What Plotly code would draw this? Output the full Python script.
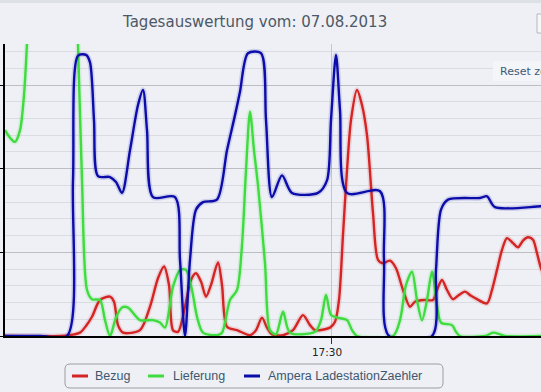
import pandas as pd
import plotly.graph_objects as go

# ---------------- data (time in minutes after midnight, values in W) ----------------
series_names = ["Bezug", "Lieferung", "Ampera LadestationZaehler"]
series_colors = ["#d42424", "#3edc3e", "#0c0caa"]

bezug_t = [887, 914.5, 919.5, 924.5, 927.5, 930.5, 934.5, 939.5, 941.5, 943.5, 946, 954.5, 959.5, 963.5,
           966.5, 969, 971, 973.5, 977, 980, 982.5, 985, 987.5, 990, 993.5, 995.5, 998, 1003, 1009.5,
           1012.5, 1015.5, 1018, 1020.5, 1026, 1031, 1036, 1039.5, 1042, 1049.5, 1052, 1054, 1056, 1058,
           1060, 1063, 1065.5, 1068, 1071, 1073.5, 1076, 1079.5, 1082.5, 1086, 1089.5, 1092, 1097, 1101,
           1103, 1105.5, 1108, 1111, 1113.5, 1117, 1120, 1123, 1128, 1130.5, 1133, 1135.5, 1138, 1141,
           1143.5, 1146, 1148.5, 1151, 1153, 1155, 1158.5]
bezug_v = [0, 0, 10, 40, 120, 230, 430, 470, 410, 130, 40, 70, 350, 690, 830, 610, 70, 50, 350, 670,
           750, 650, 470, 610, 880, 610, 110, 70, 10, 70, 220, 100, 20, 10, 70, 250, 130, 70, 100, 170,
           430, 1210, 1980, 2580, 2940, 2760, 2400, 1470, 910, 870, 900, 810, 550, 350, 410, 430, 430,
           550, 670, 550, 440, 480, 530, 480, 440, 390, 550, 790, 1030, 1170, 1110, 1060, 1140, 1180,
           1150, 990, 810, 610]

lieferung_t = [887, 889.5, 892, 894.5, 896.5, 898, 900.5, 912, 921.5, 923.5, 925.5, 928, 930.5, 934.5,
               937, 939.5, 942.5, 945.5, 948.5, 954.5, 961, 964.5, 967, 971, 974.5, 977.5, 980.5, 983,
               986, 993, 995.5, 999.5, 1003, 1005.5, 1007.5, 1009.5, 1011.5, 1013.5, 1017, 1019.5,
               1022.5, 1026, 1029.5, 1042, 1045, 1047.5, 1050, 1053, 1058, 1060.5, 1063, 1081, 1084.5,
               1087.5, 1090.5, 1093, 1095.5, 1098, 1100.5, 1103, 1105, 1110.5, 1112.5, 1114.5, 1127,
               1131, 1134.5, 1137, 1155]
lieferung_v = [2460, 2370, 2320, 2460, 2880, 3490, 4730, 5810, 4730, 3490, 1860, 550, 440, 430, 190, 0,
               220, 340, 340, 190, 190, 160, 100, 590, 790, 790, 550, 230, 40, 10, 40, 430, 550, 1090,
               1980, 2680, 2220, 1800, 870, 70, 20, 290, 40, 50, 190, 490, 250, 220, 190, 70, 0, 0, 190,
               610, 770, 430, 190, 430, 770, 370, 160, 130, 50, 0, 0, 40, 20, 0, 0]

ampera_t = [887, 904.5, 918, 921, 923.5, 927.5, 929.5, 931.5, 933.5, 939.5, 942.5, 945.5, 949.5, 953.5,
            956, 958, 961, 972, 974.5, 977, 979.5, 982.5, 986, 993, 998, 1002, 1004.5, 1008.5, 1015,
            1017.5, 1020.5, 1025.5, 1030.5, 1043.5, 1048, 1050, 1052.5, 1054.5, 1058, 1074.5, 1076.5,
            1079, 1100.5, 1102.5, 1105, 1108.5, 1124.5, 1128, 1132, 1155, 1160]
ampera_v = [0, 0, 0, 1860, 3350, 3360, 3270, 2580, 1910, 1900, 1840, 1710, 2220, 2760, 2940, 2460, 1660,
            1660, 910, 0, 910, 1510, 1600, 1630, 2220, 2640, 2920, 3380, 3380, 2580, 1660, 1920, 1710,
            1710, 1860, 2580, 3360, 2700, 1710, 1730, 910, 0, 0, 790, 1510, 1630, 1650, 1670, 1540,
            1550, 1550]

x_range_min = [887, 1155]
x_tick_min = [1050]
x_tick_text = ["17:30"]
y_range = [0, 3490]
y_major_ticks = [0, 1000, 2000, 3000]
title_text = "Tagesauswertung vom: 07.08.2013"
reset_text = "Reset zoom"

day = pd.Timestamp("2013-08-07")


def to_time(mins):
    return [day + pd.Timedelta(minutes=m) for m in mins]


# ---------------- geometry helpers ----------------
W, H = 541, 392
L, R, T, B = 5, 0, 44, 56
PW, PH = W - L - R, H - T - B


def px(x):
    return (x - L) / PW


def py(y):
    return (H - B - y) / PH


BG = "#eef0f5"
TXT = "#3e576f"

fig = go.Figure()
data = [(bezug_t, bezug_v), (lieferung_t, lieferung_v), (ampera_t, ampera_v)]
for (t, v), name, col in zip(data, series_names, series_colors):
    xs = to_time(t)
    fig.add_trace(go.Scatter(x=xs, y=v, mode="lines", line=dict(color=col, width=5.5, shape="spline", smoothing=0.8),
                             opacity=0.13, hoverinfo="skip", showlegend=False))
    fig.add_trace(go.Scatter(x=xs, y=v, mode="lines", name=name,
                             line=dict(color=col, width=2.4, shape="spline", smoothing=0.8), showlegend=False))

shapes = []
# top border band
shapes.append(dict(type="rect", xref="paper", yref="paper", x0=px(0), x1=px(W), y0=py(0), y1=py(3),
                   fillcolor="#dde0e5", line=dict(width=0), layer="below"))
# partial export button at right
shapes.append(dict(type="rect", xref="paper", yref="paper", x0=px(537), x1=px(570), y0=py(33), y1=py(14),
                   fillcolor="#f6f7f9", line=dict(color="#b5b8bd", width=1)))
# reset zoom button background
shapes.append(dict(type="rect", xref="paper", yref="paper", x0=px(493), x1=px(570), y0=py(81), y1=py(61),
                   fillcolor="#f3f5f8", line=dict(width=0)))

# legend box (rounded)
x0, x1, y0, y1, r = 65, 443, 364, 388, 5
path = (f"M {px(x0 + r)},{py(y0)} L {px(x1 - r)},{py(y0)} Q {px(x1)},{py(y0)} {px(x1)},{py(y0 + r)} "
        f"L {px(x1)},{py(y1 - r)} Q {px(x1)},{py(y1)} {px(x1 - r)},{py(y1)} "
        f"L {px(x0 + r)},{py(y1)} Q {px(x0)},{py(y1)} {px(x0)},{py(y1 - r)} "
        f"L {px(x0)},{py(y0 + r)} Q {px(x0)},{py(y0)} {px(x0 + r)},{py(y0)} Z")
shapes.append(dict(type="path", xref="paper", yref="paper", path=path, line=dict(color="#9a9da2", width=1)))

legend_line_x = [72, 148, 244]
legend_text_x = [93, 171, 266]
annotations = []
for name, col, lx, tx in zip(series_names, series_colors, legend_line_x, legend_text_x):
    shapes.append(dict(type="line", xref="paper", yref="paper", x0=px(lx), x1=px(lx + 16), y0=py(376), y1=py(376),
                       line=dict(color=col, width=3)))
    annotations.append(dict(xref="paper", yref="paper", x=px(tx), y=py(376), xanchor="left", yanchor="middle",
                            text=name, showarrow=False, font=dict(family="Liberation Sans", size=12.5, color=TXT)))

annotations.append(dict(xref="paper", yref="paper", x=px(254), y=py(22), xanchor="center", yanchor="middle",
                        text=title_text, showarrow=False, font=dict(family="DejaVu Sans", size=15, color="#4d5866")))
annotations.append(dict(xref="paper", yref="paper", x=px(498), y=py(71), xanchor="left", yanchor="middle",
                        text=reset_text, showarrow=False, font=dict(family="DejaVu Sans", size=11, color="#3e5a7a")))

fig.update_layout(
    width=W, height=H,
    margin=dict(l=L, r=R, t=T, b=B, pad=0),
    paper_bgcolor=BG, plot_bgcolor=BG,
    shapes=shapes, annotations=annotations,
    showlegend=False,
    xaxis=dict(range=to_time(x_range_min), tickvals=to_time(x_tick_min), ticktext=x_tick_text,
               showgrid=True, gridcolor="#c4c6ca", gridwidth=1, zeroline=False,
               showline=True, linecolor="#000000", linewidth=1.5,
               ticks="outside", ticklen=6, tickcolor="#333333", ticklabelshift=-4,
               tickfont=dict(family="DejaVu Sans", size=10.5, color="#222222")),
    yaxis=dict(range=y_range, tickvals=y_major_ticks, showticklabels=False,
               showgrid=True, gridcolor="#bcbec2", gridwidth=1, zeroline=False,
               showline=True, linecolor="#000000", linewidth=1.5,
               ticks="outside", ticklen=5, tickcolor="#000000",
               minor=dict(dtick=200, showgrid=True, gridcolor="#d9dce1", gridwidth=1)),
)

fig.write_html("out.html", config={"displayModeBar": False},
               post_script="document.body.style.margin='0';document.body.style.overflow='hidden';")
